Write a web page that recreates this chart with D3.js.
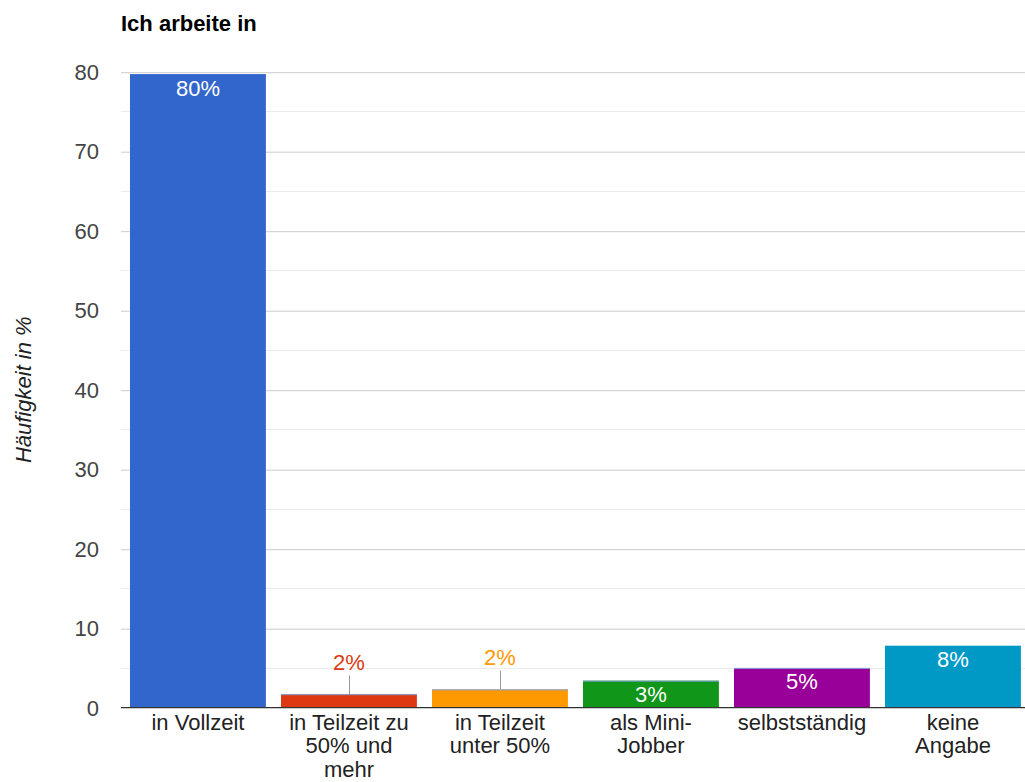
<!DOCTYPE html>
<html>
<head>
<meta charset="utf-8">
<script src="https://cdn.jsdelivr.net/npm/d3@7"></script>
<style>
  html, body { margin: 0; padding: 0; background: #fff; }
  svg { display: block; font-family: Arial, "Liberation Sans", sans-serif; }
</style>
</head>
<body>
<svg id="chart" width="1025" height="782"></svg>
<script>
// Survey answers: "Ich arbeite in" (share of respondents, %)
const categories = [
  "in Vollzeit",
  "in Teilzeit zu\n50% und\nmehr",
  "in Teilzeit\nunter 50%",
  "als Mini-\nJobber",
  "selbstständig",
  "keine\nAngabe"
];
const values = [79.7, 1.7, 2.3, 3.4, 5.0, 7.8];
const colors = ["#3366cc", "#dc3912", "#ff9900", "#109618", "#990099", "#0099c6"];
const yTicks = [0, 10, 20, 30, 40, 50, 60, 70, 80];
const yMinorTicks = [5, 15, 25, 35, 45, 55, 65, 75];
const title = "Ich arbeite in";
const yTitle = "Häufigkeit in %";

const W = 1025, H = 782;
const plot = { left: 121, right: 1025, top: 71.7, bottom: 707.7 };
const fs = 22;

const svg = d3.select("#chart");

const x = d3.scaleBand()
  .domain(categories)
  .range([122.45, 1028.45])
  .paddingInner(0.1)
  .paddingOuter(0.05);

const y = d3.scaleLinear()
  .domain([0, 80])
  .range([plot.bottom, plot.top]);

// minor gridlines
svg.append("g")
  .selectAll("line")
  .data(yMinorTicks)
  .join("line")
  .attr("x1", plot.left).attr("x2", plot.right)
  .attr("y1", d => Math.round(y(d)) + 0.5).attr("y2", d => Math.round(y(d)) + 0.5)
  .attr("stroke", "#ebebeb").attr("stroke-width", 1);

// y axis with major gridlines
const yAxis = d3.axisLeft(y)
  .tickValues(yTicks)
  .tickSize(0)
  .tickPadding(0)
  .tickFormat(d3.format("d"));

const gy = svg.append("g")
  .attr("transform", `translate(${plot.left},0)`)
  .call(yAxis);
gy.select(".domain").remove();
gy.selectAll(".tick line").remove();
gy.selectAll(".tick text")
  .attr("x", 99 - plot.left)
  .attr("dy", "0.35em")
  .attr("fill", "#444")
  .style("font-size", fs + "px")
  .style("font-family", "Arial, 'Liberation Sans', sans-serif");
gy.selectAll(".tick")
  .filter(d => d !== 0)
  .append("line")
  .attr("x1", 0).attr("x2", plot.right - plot.left)
  .attr("y1", 0.5).attr("y2", 0.5)
  .attr("stroke", "#cccccc");

// bars
const data = categories.map((c, i) => ({ c, v: values[i], color: colors[i], i }));

const bars = svg.append("g");
bars.selectAll("rect")
  .data(data)
  .join("rect")
  .attr("x", d => x(d.c))
  .attr("y", d => y(d.v))
  .attr("width", x.bandwidth())
  .attr("height", d => y(0) - y(d.v))
  .attr("fill", d => d.color);

// thin light edge along the top of the small bars
bars.selectAll("line.edge")
  .data(data.filter(d => d.i >= 1 && d.i <= 4))
  .join("line")
  .attr("class", "edge")
  .attr("x1", d => x(d.c)).attr("x2", d => x(d.c) + x.bandwidth())
  .attr("y1", d => y(d.v) + 0.5).attr("y2", d => y(d.v) + 0.5)
  .attr("stroke", "#7f9fd6").attr("stroke-width", 1);

// baseline
svg.append("line")
  .attr("x1", plot.left).attr("x2", plot.right)
  .attr("y1", y(0)).attr("y2", y(0))
  .attr("stroke", "#333").attr("stroke-width", 1.3);

// value labels
const fmt = v => Math.round(v) + "%";
const minInside = 22;
const labels = svg.append("g").style("font-size", fs + "px");
data.forEach(d => {
  const cx = x(d.c) + x.bandwidth() / 2;
  const top = y(d.v);
  const h = y(0) - top;
  if (h >= minInside) {
    labels.append("text")
      .attr("x", cx).attr("y", top + 21.5)
      .attr("text-anchor", "middle")
      .attr("fill", "#fff")
      .text(fmt(d.v));
  } else {
    const base = top - 24.3;
    labels.append("line")
      .attr("x1", Math.round(cx) + 0.5).attr("x2", Math.round(cx) + 0.5)
      .attr("y1", base + 5.5).attr("y2", top)
      .attr("stroke", "#999").attr("stroke-width", 1);
    labels.append("text")
      .attr("x", cx).attr("y", base)
      .attr("text-anchor", "middle")
      .attr("fill", d.color)
      .text(fmt(d.v));
  }
});

// category labels
const xl = svg.append("g").style("font-size", fs + "px").attr("fill", "#222");
categories.forEach(c => {
  const t = xl.append("text")
    .attr("x", x(c) + x.bandwidth() / 2)
    .attr("y", 729.5)
    .attr("text-anchor", "middle");
  c.split("\n").forEach((line, k) => {
    t.append("tspan")
      .attr("x", x(c) + x.bandwidth() / 2)
      .attr("dy", k === 0 ? 0 : 23.5)
      .text(line);
  });
});

// chart title
svg.append("text")
  .attr("x", 121).attr("y", 31)
  .style("font-size", fs + "px")
  .style("font-weight", "bold")
  .attr("fill", "#000")
  .text(title);

// y axis title
svg.append("text")
  .attr("transform", `translate(31,${(plot.top + plot.bottom) / 2}) rotate(-90)`)
  .attr("text-anchor", "middle")
  .style("font-size", fs + "px")
  .style("font-style", "italic")
  .attr("fill", "#222")
  .text(yTitle);
</script>
</body>
</html>
